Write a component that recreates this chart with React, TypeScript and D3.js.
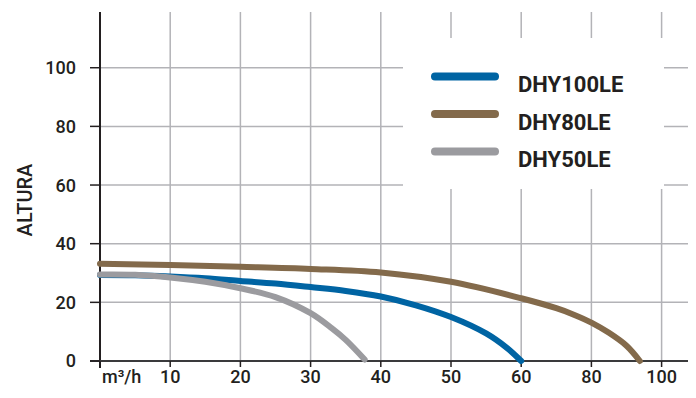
import React from "react";
import * as d3 from "d3";

const xTickValues = [0, 10, 20, 30, 40, 50, 60, 80, 100];
const xTickLabels = ["m³/h", "10", "20", "30", "40", "50", "60", "80", "100"];
const yTickValues = [0, 20, 40, 60, 80, 100];

const seriesNames = ["DHY100LE", "DHY80LE", "DHY50LE"];
const seriesColors = ["#0064a3", "#836a4b", "#9b9b9f"];

const dhy100Flow = [0, 5, 10, 15, 20, 25, 30, 35, 40, 45, 50, 55, 58, 60];
const dhy100Head = [29.3, 29.2, 28.8, 28.2, 27.3, 26.4, 25.2, 23.9, 22.0, 19.0, 15.0, 9.4, 4.4, 0];

const dhy80Flow = [0, 10, 20, 30, 40, 50, 60, 70, 75, 80, 85, 90, 93.8];
const dhy80Head = [33.2, 32.7, 32.1, 31.4, 30.2, 27, 21.4, 18.0, 15.8, 13.1, 9.6, 5.2, 0];

const dhy50Flow = [0, 5, 10, 15, 20, 25, 30, 33, 35, 37.7];
const dhy50Head = [29.5, 29.4, 28.5, 27, 24.8, 21.8, 16.3, 11.2, 7.2, 0.5];

const W = 696;
const H = 398;
const left = 100;
const step = 70.2;
const bottom = 361;
const top = 12;
const rightEnd = 688;

export default function App() {
  const x = d3
    .scaleLinear()
    .domain(xTickValues)
    .range(xTickValues.map((_, i) => left + i * step));
  const y = d3.scaleLinear().domain([0, 119]).range([bottom, top]);

  const line = d3
    .line<[number, number]>()
    .x((d) => x(d[0]))
    .y((d) => y(d[1]))
    .curve(d3.curveCatmullRom.alpha(0.5));

  const zip = (a: number[], b: number[]) => a.map((v, i) => [v, b[i]] as [number, number]);
  const paths = [
    { d: line(zip(dhy80Flow, dhy80Head)), c: seriesColors[1] },
    { d: line(zip(dhy100Flow, dhy100Head)), c: seriesColors[0] },
    { d: line(zip(dhy50Flow, dhy50Head)), c: seriesColors[2] },
  ];

  const grid = "#b3b3b7";
  const ink = "#231f20";
  const font = "Roboto, 'Noto Sans', sans-serif";

  const legendX = 403;
  const legendY = 38;

  return (
    <svg
      width={W}
      height={H}
      style={{ position: "absolute", left: 0, top: 0, background: "#fff" }}
      fontFamily={font}
    >
      {yTickValues.slice(1).map((v) => (
        <line key={"h" + v} x1={left} x2={rightEnd} y1={y(v)} y2={y(v)} stroke={grid} strokeWidth={1.5} />
      ))}
      {xTickValues.slice(1).map((v) => (
        <line key={"v" + v} x1={x(v)} x2={x(v)} y1={top} y2={bottom} stroke={grid} strokeWidth={1.5} />
      ))}
      <rect x={legendX} y={legendY} width={261} height={151} fill="#fff" />
      <line x1={left} x2={left} y1={top} y2={368} stroke={ink} strokeWidth={2} />
      <line x1={90} x2={rightEnd} y1={bottom} y2={bottom} stroke="#3a3a3c" strokeWidth={2} />
      {yTickValues.map((v) => (
        <g key={"yt" + v}>
          <line x1={90} x2={left} y1={y(v)} y2={y(v)} stroke={ink} strokeWidth={1.5} />
          <text x={76} y={y(v)} dy="0.36em" textAnchor="end" fontSize={18} fontWeight={500} fill={ink}>
            {v}
          </text>
        </g>
      ))}
      {xTickValues.map((v, i) => (
        <g key={"xt" + v}>
          <line x1={x(v)} x2={x(v)} y1={bottom} y2={367} stroke={ink} strokeWidth={1.5} />
          <text
            x={i === 0 ? x(v) + 2 : x(v)}
            y={383}
            textAnchor={i === 0 ? "start" : "middle"}
            fontSize={18}
            fontWeight={500}
            fill={ink}
          >
            {xTickLabels[i]}
          </text>
        </g>
      ))}
      <text
        transform="translate(25,200) rotate(-90)"
        textAnchor="middle"
        dominantBaseline="central"
        fontSize={20}
        fontWeight={500}
        fill={ink}
      >
        ALTURA
      </text>
      {paths.map((p, i) => (
        <path key={"p" + i} d={p.d || ""} fill="none" stroke={p.c} strokeWidth={6} strokeLinecap="round" />
      ))}
      {seriesNames.map((name, i) => (
        <g key={name}>
          <line
            x1={435}
            x2={495}
            y1={76.5 + i * 37.5}
            y2={76.5 + i * 37.5}
            stroke={seriesColors[i]}
            strokeWidth={8}
            strokeLinecap="round"
          />
          <text x={518} y={92 + i * 37.5} fontSize={22} fontWeight={700} fill={ink}>
            {name}
          </text>
        </g>
      ))}
    </svg>
  );
}
